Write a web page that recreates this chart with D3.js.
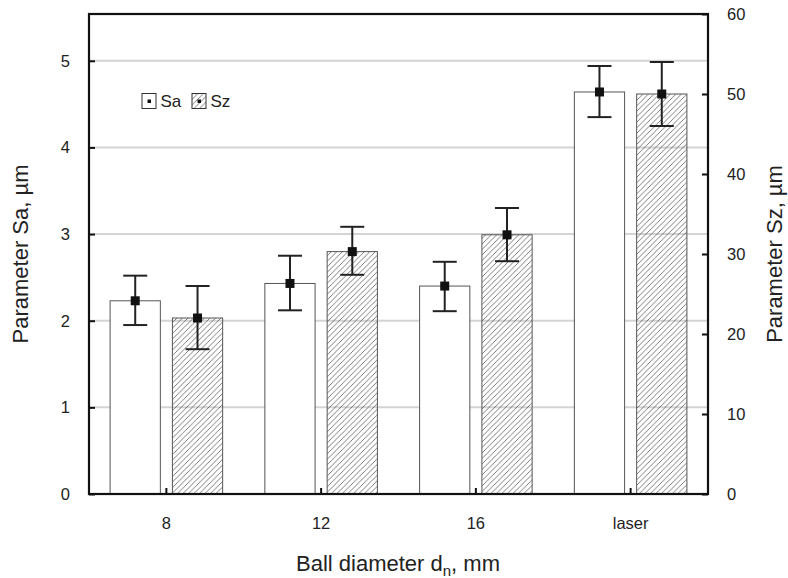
<!DOCTYPE html>
<html><head><meta charset="utf-8">
<script src="https://cdn.jsdelivr.net/npm/d3@7"></script>
<style>body{margin:0;background:#fff}svg{display:block}text{font-family:"Liberation Sans",Arial,sans-serif;fill:#222}</style>
</head><body><svg id="c" width="788" height="578"></svg>
<script>
const categories = ["8","12","16","laser"];
const seriesNames = ["Sa","Sz"];
const saMean = [2.23, 2.43, 2.40, 4.64];
const saLow  = [1.95, 2.12, 2.11, 4.35];
const saHigh = [2.52, 2.75, 2.68, 4.94];
const szMean = [22.0, 30.3, 32.4, 50.0];
const szLow  = [18.1, 27.4, 29.1, 46.0];
const szHigh = [26.0, 33.4, 35.75, 54.0];
const leftTicks = [0,1,2,3,4,5];
const rightTicks = [0,10,20,30,40,50,60];

const svg = d3.select("#c");
const L=89, R=708, T=14, B=494;
const x = d3.scaleBand().domain(categories).range([L,R]).padding(0);
const xi = d3.scaleBand().domain(seriesNames).range([0,x.bandwidth()]).paddingInner(12/62).paddingOuter(21/62);
const yL = d3.scaleLinear().domain([0,5.54]).range([B,T]);
const yR = d3.scaleLinear().domain([0,60]).range([B,T]);

const defs = svg.append("defs");
const pat = defs.append("pattern").attr("id","hatch").attr("patternUnits","userSpaceOnUse").attr("width",5.5).attr("height",5.5);
pat.append("path").attr("d","M-1,1 l2,-2 M0,5.5 l5.5,-5.5 M4.5,6.5 l2,-2").attr("stroke","#444").attr("stroke-width",0.7);

// gridlines
svg.append("g").selectAll("line").data(leftTicks.filter(d=>d>0)).join("line")
  .attr("x1",L).attr("x2",R).attr("y1",d=>yL(d)).attr("y2",d=>yL(d))
  .attr("stroke","#d4d4d4").attr("stroke-width",2);

const data = categories.map((c,i)=>[
  {cat:c, s:"Sa", v:saMean[i], lo:saLow[i], hi:saHigh[i], y:yL},
  {cat:c, s:"Sz", v:szMean[i], lo:szLow[i], hi:szHigh[i], y:yR}
]).flat();

svg.append("g").selectAll("rect").data(data).join("rect")
  .attr("x",d=>x(d.cat)+xi(d.s)).attr("width",xi.bandwidth())
  .attr("y",d=>d.y(d.v)).attr("height",d=>B-d.y(d.v))
  .attr("fill",d=>d.s==="Sa"?"#fff":"url(#hatch)")
  .attr("stroke","#555").attr("stroke-width",1);

// error bars
const eb = svg.append("g").attr("stroke","#222").attr("stroke-width",2);
data.forEach(d=>{
  const cx = x(d.cat)+xi(d.s)+xi.bandwidth()/2;
  eb.append("line").attr("x1",cx).attr("x2",cx).attr("y1",d.y(d.hi)).attr("y2",d.y(d.lo));
  eb.append("line").attr("x1",cx-12).attr("x2",cx+12).attr("y1",d.y(d.hi)).attr("y2",d.y(d.hi));
  eb.append("line").attr("x1",cx-12).attr("x2",cx+12).attr("y1",d.y(d.lo)).attr("y2",d.y(d.lo));
  svg.append("rect").attr("x",cx-4.5).attr("y",d.y(d.v)-4.5).attr("width",9).attr("height",9).attr("fill","#111");
});

// axes
const axL = svg.append("g").attr("transform",`translate(${L},0)`).call(d3.axisRight(yL).tickValues(leftTicks).tickSize(6).tickFormat(""));
const axR = svg.append("g").attr("transform",`translate(${R},0)`).call(d3.axisLeft(yR).tickValues(rightTicks).tickSize(6).tickFormat(""));
const axB = svg.append("g").attr("transform",`translate(0,${B})`).call(d3.axisTop(x).tickSize(6).tickFormat(""));
[axL,axR,axB].forEach(a=>{a.select(".domain").remove();a.selectAll("line").attr("stroke","#111").attr("stroke-width",2);});

svg.append("rect").attr("x",L).attr("y",T).attr("width",R-L).attr("height",B-T)
  .attr("fill","none").attr("stroke","#111").attr("stroke-width",2.2);

// tick labels
svg.append("g").selectAll("text").data(leftTicks).join("text")
  .attr("x",70).attr("y",d=>yL(d)+6).attr("text-anchor","end").attr("font-size",16.5).text(d=>d);
svg.append("g").selectAll("text").data(rightTicks).join("text")
  .attr("x",727).attr("y",d=>yR(d)+6).attr("text-anchor","start").attr("font-size",16.5).text(d=>d);
svg.append("g").selectAll("text").data(categories).join("text")
  .attr("x",d=>x(d)+x.bandwidth()/2).attr("y",529).attr("text-anchor","middle").attr("font-size",16.5).text(d=>d);

// titles
svg.append("text").attr("transform","translate(28,254) rotate(-90)").attr("text-anchor","middle").attr("font-size",22).text("Parameter Sa, µm");
svg.append("text").attr("transform","translate(782,254) rotate(-90)").attr("text-anchor","middle").attr("font-size",22).text("Parameter Sz, µm");
const xt = svg.append("text").attr("x",398).attr("y",571).attr("text-anchor","middle").attr("font-size",22);
xt.append("tspan").text("Ball diameter d");
xt.append("tspan").attr("font-size",15).attr("dy",5).text("n");
xt.append("tspan").attr("dy",-5).text(", mm");

// legend
const lg = svg.append("g");
const legendItems = [{s:"Sa",x:142},{s:"Sz",x:192}];
legendItems.forEach(it=>{
  lg.append("rect").attr("x",it.x).attr("y",93.5).attr("width",14).attr("height",15)
    .attr("fill",it.s==="Sa"?"#fff":"url(#hatch)").attr("stroke","#333").attr("stroke-width",1);
  lg.append("rect").attr("x",it.x+5.5).attr("y",99.5).attr("width",3.5).attr("height",3.5).attr("fill","#111");
  lg.append("text").attr("x",it.x+18.5).attr("y",107).attr("font-size",17).text(it.s);
});
</script></body></html>
